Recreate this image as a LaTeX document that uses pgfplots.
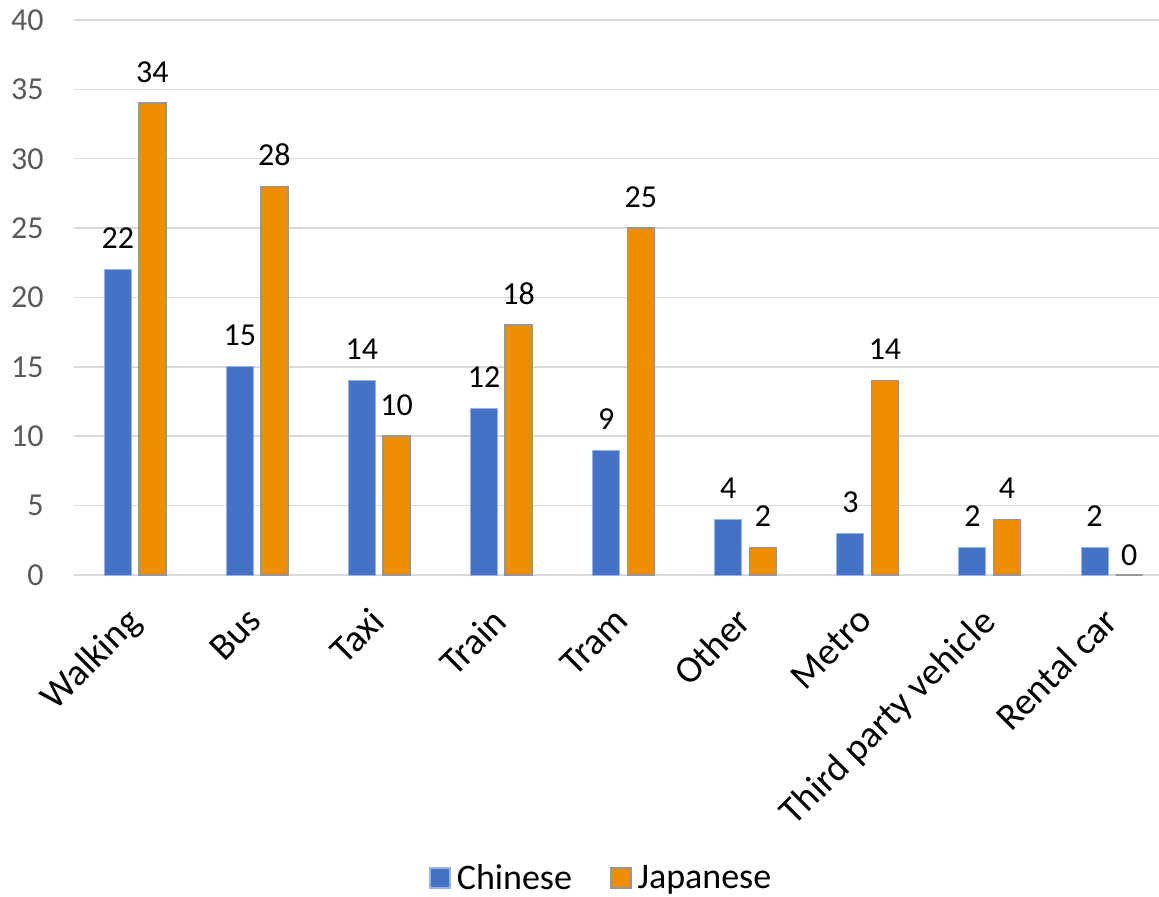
\documentclass[border=0pt]{standalone}
\usepackage{fontspec}
\setmainfont{Carlito}
\usepackage{pgfplots}
\usepackage{pgfplotstable}
\pgfplotsset{compat=1.18}

\definecolor{chinese}{RGB}{68,114,196}
\definecolor{japanese}{RGB}{240,140,0}
\definecolor{gridgray}{RGB}{217,217,217}
\definecolor{ticktext}{RGB}{89,89,89}
\definecolor{japedge}{RGB}{150,150,150}
\definecolor{chnedge}{RGB}{150,180,230}

% Transport modes used, counts per group
\pgfplotstableread{
idx chinese japanese
0   22      34
1   15      28
2   14      10
3   12      18
4   9       25
5   4       2
6   3       14
7   2       4
8   2       0
}\modes

\begin{document}
\begin{tikzpicture}
\begin{axis}[
  scale only axis,
  x=61.05pt, y=6.9375pt,
  xmin=-0.5, xmax=8.39,
  ymin=0, ymax=40,
  clip=false,
  axis line style={draw=none},
  major tick length=0pt,
  ymajorgrids,
  grid style={gridgray, line width=0.75pt},
  ytick={0,5,...,40},
  xtick={0,...,8},
  xticklabels={Walking,Bus,Taxi,Train,Tram,Other,Metro,Third party vehicle,Rental car},
  /pgf/number format/assume math mode=true,
  yticklabel style={font=\fontsize{16}{19}\selectfont, text=ticktext,
    anchor=east, inner sep=0pt, xshift=-15pt},
  xticklabel style={font=\fontsize{19}{23}\selectfont, text=black,
    xshift=-5.5pt, yshift=-15pt, rotate=45, anchor=north east, inner sep=0pt},
  ybar, bar width=13.5pt,
  nodes near coords,
  visualization depends on=rawy \as \rawy,
  nodes near coords style={font=\fontsize{16}{19}\selectfont, text=black,
    anchor=base, inner sep=0pt, yshift={ifthenelse(\rawy==0,5,10.5)}},
  legend columns=2,
  legend style={at={(axis description cs:0.4876,-0.546)}, anchor=center,
    draw=none, fill=none, font=\fontsize{18}{22}\selectfont,
    /tikz/every even column/.append style={column sep=16pt},
    nodes={inner sep=3pt}},
  legend image code/.code={\draw[#1, line width=0.75pt] (0pt,-5pt) rectangle (10pt,5pt);},
]
\addplot[fill=chinese, draw=chnedge, line width=0.5pt, bar shift=-8.65pt]
  table[x=idx, y=chinese] {\modes};
\addplot[fill=japanese, draw=japedge, line width=0.75pt, bar shift=8.65pt]
  table[x=idx, y=japanese] {\modes};
\legend{Chinese, Japanese}
\end{axis}
\pgfresetboundingbox
\useasboundingbox (-37pt,-161pt) rectangle (542.5pt,287.5pt);
\end{tikzpicture}
\end{document}
